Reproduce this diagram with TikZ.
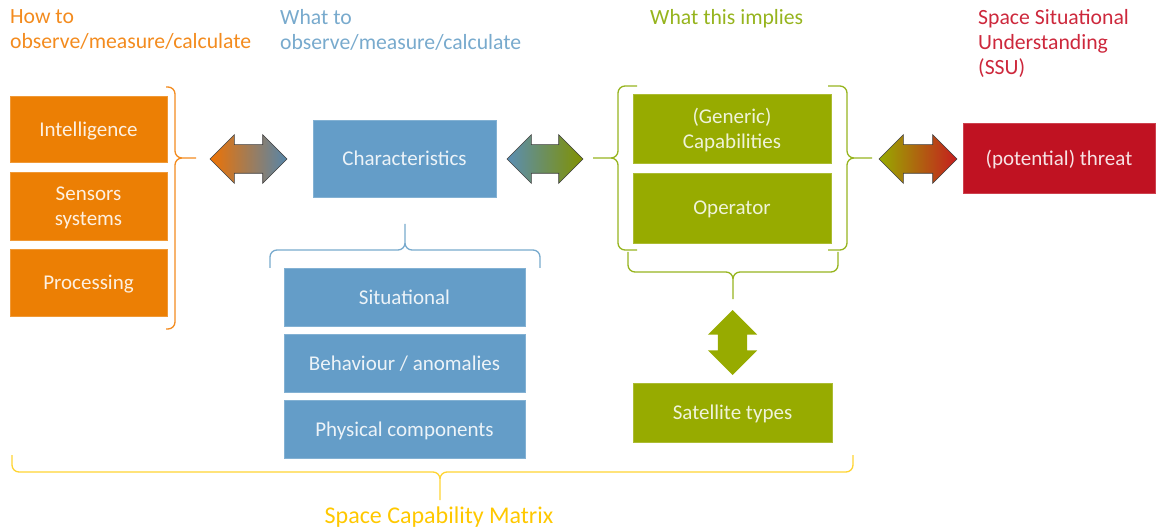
\documentclass[tikz,border=0pt]{standalone}
\usepackage{fontspec}
\setmainfont{Carlito}
\usetikzlibrary{shapes.arrows}
\definecolor{orangebox}{RGB}{236,127,4}
\definecolor{bluebox}{RGB}{100,157,200}
\definecolor{greenbox}{RGB}{151,171,0}
\definecolor{redbox}{RGB}{192,18,34}
\definecolor{orangetxt}{RGB}{243,139,30}
\definecolor{bluetxt}{RGB}{120,170,205}
\definecolor{greentxt}{RGB}{150,180,30}
\definecolor{redtxt}{RGB}{205,40,60}
\definecolor{yellowbr}{RGB}{255,212,50}
\definecolor{yellowtxt}{RGB}{255,200,0}

\begin{document}
\begin{tikzpicture}[x=1pt,y=-1pt,
  txt/.style={font=\fontsize{21}{25}\selectfont},
  head/.style={font=\fontsize{21.7}{25}\selectfont, anchor=north west, align=left,
    inner sep=0pt},
  box/.style={txt, inner sep=0pt, align=center, line width=0.6pt, text depth=0pt},
  obox/.style={box, fill=orangebox, draw=orangebox!80!white, text=white!88!orangebox,
    minimum width=157pt},
  bbox/.style={box, fill=bluebox, draw=bluebox!80!white, text=white!88!bluebox},
  gbox/.style={box, fill=greenbox, draw=greenbox!80!white, text=white!85!greenbox},
  rbox/.style={box, fill=redbox, draw=redbox!80!white, text=white!88!redbox},
  dblarr/.style={double arrow, double arrow head extend=10pt, inner xsep=0pt,
    inner ysep=14pt, draw=black!75, line width=0.6pt},
  brace/.style={line width=1.3pt, rounded corners=7pt}]
  \useasboundingbox (0,0) rectangle (1156,529);

  %headings
  \node[head, text=orangetxt] (howto) at (10,9) {How to\\observe/measure/calculate};
  \node[head, text=bluetxt] (whatto) at (280,9) {What to\\observe/measure/calculate};
  \node[head, text=greentxt] (implies) at (650,9) {What this implies};
  \node[head, text=redtxt] (ssu) at (978,9) {Space Situational\\Understanding\\(SSU)};

  %how: sources
  \node[obox, minimum height=66pt] (intel) at (88.5,129) {Intelligence};
  \node[obox, minimum height=68pt] (sensors) at (88.5,206) {Sensors\\systems};
  \node[obox, minimum height=67pt] (proc) at (88.5,282.5) {Processing};

  %what: characteristics
  \node[bbox, minimum width=183pt, minimum height=77pt] (charac) at (404.5,158.5)
    {Characteristics};
  \node[bbox, minimum width=241pt, minimum height=58pt] (situ) at (404.5,297)
    {Situational};
  \node[bbox, minimum width=241pt, minimum height=58pt] (behav) at (404.5,363)
    {Behaviour / anomalies};
  \node[bbox, minimum width=241pt, minimum height=58pt] (phys) at (404.5,429)
    {Physical components};

  %implies
  \node[gbox, minimum width=198pt, minimum height=69pt] (capab) at (732,128.5)
    {(Generic)\\Capabilities};
  \node[gbox, minimum width=198pt, minimum height=70pt] (oper) at (732,208) {Operator};
  \node[gbox, minimum width=199pt, minimum height=59pt] (sat) at (732.5,412.5)
    {Satellite types};

  %ssu
  \node[rbox, minimum width=192pt, minimum height=70pt] (threat) at (1059,158)
    {(potential) threat};

  %double arrows
  \node[dblarr, minimum height=77pt, left color=orangebox!90!red,
    right color=bluebox!85!black] (howwhat) at (248.5,159) {};
  \node[dblarr, minimum height=76pt, left color=bluebox!90!black,
    right color=greenbox!85!black] (whatimp) at (545,159) {};
  \node[dblarr, minimum height=78pt, left color=greenbox,
    right color=redbox!90!orange] (impssu) at (918,159) {};
  \node[double arrow, double arrow head extend=10pt, inner xsep=0pt, inner ysep=14.5pt,
    minimum height=65pt, rotate=90, fill=greenbox] (impsat) at (732.5,342.5) {};

  %braces
  \draw[brace, orangetxt] (166,87) -- (175,87) -- (175,158) -- (196,158)
    (166,329) -- (175,329) -- (175,158) -- (196,158);
  \draw[brace, bluetxt] (270,268) -- (270,250) -- (405,250) -- (405,224)
    (540,268) -- (540,250) -- (405,250) -- (405,224);
  \draw[brace, greentxt] (637,86) -- (618,86) -- (618,158) -- (593,158)
    (637,250) -- (618,250) -- (618,158) -- (593,158);
  \draw[brace, greentxt] (828,86) -- (847,86) -- (847,158) -- (872,158)
    (828,250) -- (847,250) -- (847,158) -- (872,158);
  \draw[brace, greentxt] (628,252) -- (628,272) -- (733,272) -- (733,299)
    (838,252) -- (838,272) -- (733,272) -- (733,299);
  \draw[brace, yellowbr] (12,455) -- (12,472) -- (440,472) -- (440,500)
    (853,455) -- (853,472) -- (440,472) -- (440,500);

  \node[font=\fontsize{24}{28}\selectfont, text=yellowtxt] (scm) at (439,517)
    {Space Capability Matrix};
\end{tikzpicture}
\end{document}
